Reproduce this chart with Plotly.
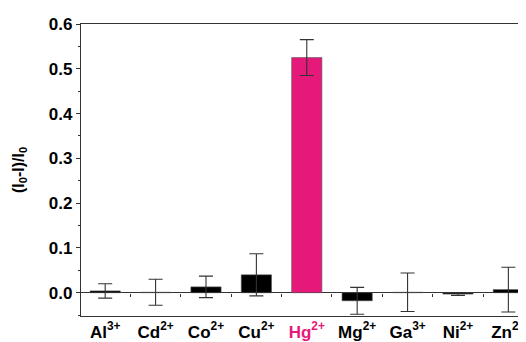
import plotly.graph_objects as go

categories = ["Al<sup>3+</sup>", "Cd<sup>2+</sup>", "Co<sup>2+</sup>", "Cu<sup>2+</sup>",
              "Hg<sup>2+</sup>", "Mg<sup>2+</sup>", "Ga<sup>3+</sup>", "Ni<sup>2+</sup>", "Zn<sup>2+</sup>"]
values = [0.004, 0.001, 0.013, 0.040, 0.525, -0.018, 0.001, -0.003, 0.007]
errors = [0.016, 0.029, 0.024, 0.047, 0.040, 0.030, 0.043, 0.003, 0.050]
bar_colors = ["black", "black", "black", "black", "#E5197A", "black", "black", "black", "black"]
label_colors = ["black", "black", "black", "black", "#E5197A", "black", "black", "black", "black"]
y_ticks = [0.0, 0.1, 0.2, 0.3, 0.4, 0.5, 0.6]
y_tick_text = ["0.0", "0.1", "0.2", "0.3", "0.4", "0.5", "0.6"]

xs = list(range(len(categories)))
font_fam = "Liberation Sans, Arial, sans-serif"

fig = go.Figure()
fig.add_trace(go.Bar(
    x=xs, y=values, width=0.6,
    marker=dict(color=bar_colors, line=dict(color="#555555", width=0.6)),
    error_y=dict(type="data", array=errors, visible=True, color="#333333",
                 thickness=1.1, width=7),
    showlegend=False,
))

ticktext = [f"<b><span style='color:{c}'>{t}</span></b>" for t, c in zip(categories, label_colors)]

ymin, ymax = -0.052, 0.6
xr = [-0.48, 8.35]
fig.update_layout(
    width=518, height=334,
    margin=dict(l=73, r=0, t=16, b=26),
    paper_bgcolor="white", plot_bgcolor="white",
    font=dict(family=font_fam, size=17, color="black"),
    bargap=0.4,
    xaxis=dict(
        range=xr, tickmode="array", tickvals=xs, ticktext=ticktext,
        showline=True, linecolor="#333333", linewidth=1.2, mirror=True,
        ticks="", showgrid=False, zeroline=False,
        tickfont=dict(size=17, family=font_fam),
    ),
    xaxis2=dict(
        overlaying="x", anchor="free", position=(0 - ymin) / (ymax - ymin),
        range=xr, tickmode="array",
        tickvals=[i + 0.5 for i in xs[:-1]], showticklabels=False,
        ticks="outside", ticklen=3, tickcolor="#333333", tickwidth=1,
        showline=False, showgrid=False, zeroline=False,
    ),
    yaxis=dict(
        range=[ymin, ymax], tickmode="array", tickvals=y_ticks,
        ticktext=[f"<b>{t}</b>" for t in y_tick_text],
        ticks="outside", ticklen=4, tickcolor="#333333", tickwidth=1,
        minor=dict(ticks="outside", ticklen=2, tickcolor="#333333", dtick=0.05, tick0=0),
        showline=True, linecolor="#333333", linewidth=1.2, mirror=False,
        showgrid=False, zeroline=True, zerolinecolor="#333333", zerolinewidth=1,
        tickfont=dict(size=17, family=font_fam),
        title=dict(text="<b>(I<sub>0</sub>-I)/I<sub>0</sub></b>", font=dict(size=16, family=font_fam),
                   standoff=20),
    ),
)
fig.add_trace(go.Scatter(x=[None], y=[None], xaxis="x2", showlegend=False))

fig.write_html("out.html", config={"displayModeBar": False})
